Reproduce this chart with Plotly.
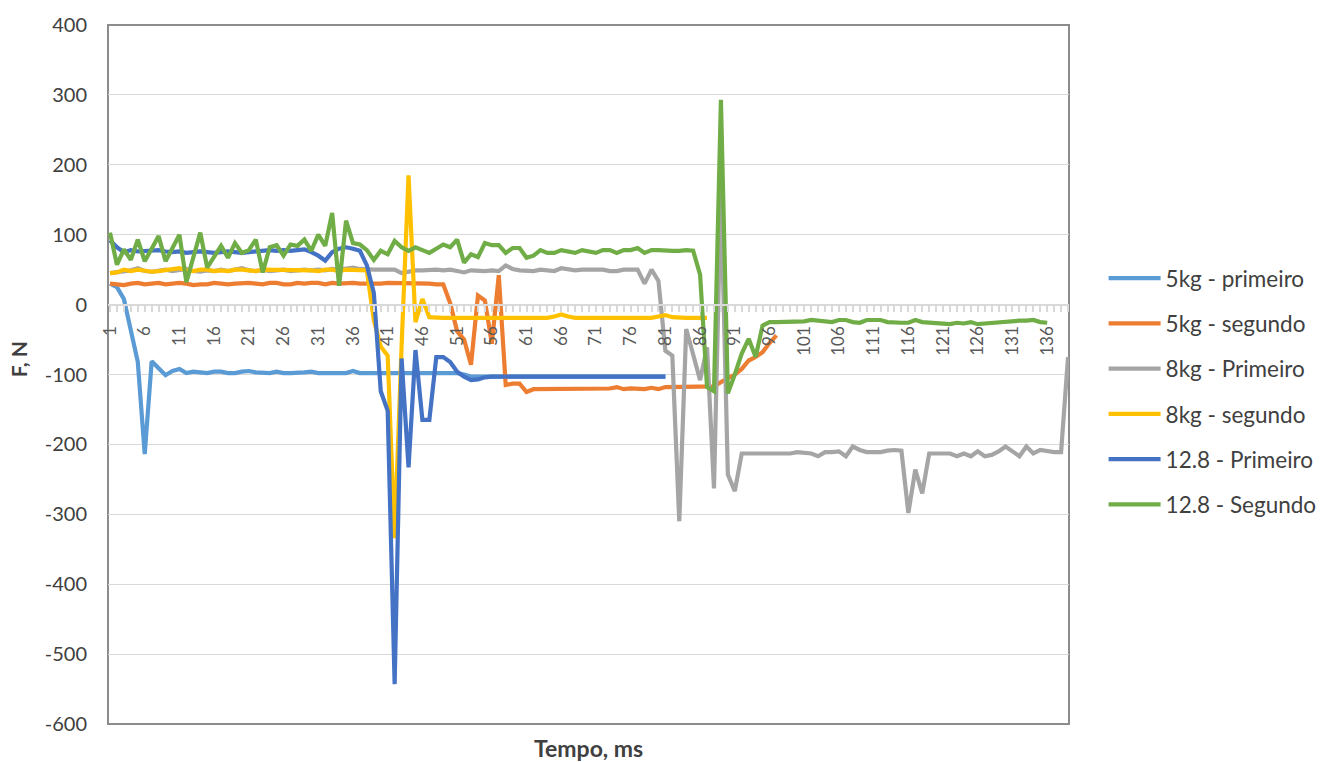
import plotly.graph_objects as go

# ---------------- data ----------------
series_names = ["5kg - primeiro", "5kg - segundo", "8kg - Primeiro",
                "8kg - segundo", "12.8 - Primeiro", "12.8 - Segundo"]
series_colors = ["#5B9BD5", "#ED7D31", "#A5A5A5", "#FFC000", "#4472C4", "#70AD47"]

kg5_primeiro = [30, 25, 8, -40, -82, -214, -81, -91, -101, -95, -92, -98, -96, -97, -98,
                -96, -96, -98, -98, -96, -95, -97, -98, -98, -96, -98, -98, -98, -97, -96,
                -98, -98, -98, -98, -98, -95, -98, -98, -98, -98, -98, -98, -98, -98, -98,
                -98, -98, -98, -98, -98, -98, -100, -103, -103, -103, -103, -103, -103, -103, -103,
                -103, -103, -103, -103, -103, -103, -103, -103, -103, -103, -103, -103, -103, -103, -103,
                -103, -103, -103, -103, -103, -103]

kg5_segundo = [30, 29, 28, 30, 31, 29, 30, 31, 29, 30, 31, 30, 28, 29, 29, 31, 30, 29, 30, 31,
               31, 30, 29, 31, 31, 29, 29, 31, 30, 31, 31, 29, 31, 30, 31, 31, 30, 30, 29, 30,
               31, 31, 30, 31, 31, 31, 30, 29, 29, 2, -38, -50, -86, 13, 6, -56, 42, -115, -113, -113,
               -125, -121, -121, -121, -121, -121, -121, -121, -121, -121, -121, -120, -120, -118, -121,
               -120, -121, -121, -119, -121, -118, -118, -118, -118, -118, -118, -118, -117, -111, -106,
               -100, -92, -80, -75, -68, -55, -44]

kg8_primeiro = [45, 46, 48, 49, 52, 48, 47, 48, 50, 48, 49, 51, 48, 47, 49, 48, 50, 48, 50, 52,
                49, 48, 50, 48, 49, 50, 48, 49, 50, 49, 50, 49, 51, 50, 52, 53, 51, 50, 50, 50,
                50, 50, 45, 47, 49, 49, 50, 50, 49, 50, 48, 46, 49, 48, 48, 49, 48, 56, 51, 49,
                48, 48, 50, 49, 48, 52, 50, 49, 50, 50, 50, 50, 48, 48, 50, 50, 50, 30, 50, 34,
                -66, -73, -310, -35, -70, -108, -61, -263, 165, -243, -267, -213, -213, -213, -213,
                -213, -213, -213, -213, -211, -212, -213, -217, -211, -211, -210, -217, -203, -208, -211,
                -211, -211, -209, -208, -209, -298, -236, -270, -213, -213, -213, -213, -217, -213, -217,
                -210, -217, -215, -210, -203, -210, -217, -203, -213, -208, -210, -211, -211, -75]

kg8_segundo = [45, 46, 50, 48, 50, 49, 47, 48, 49, 51, 52, 49, 48, 50, 50, 48, 49, 48, 50, 50,
               49, 48, 50, 50, 49, 50, 49, 50, 50, 49, 48, 50, 50, 48, 50, 50, 50, 49, -22, -60,
               -73, -334, -60, 185, -25, 8, -18, -19, -19, -19, -19, -19, -19, -19, -19, -19, -19, -19,
               -19, -19, -19, -19, -19, -19, -17, -14, -17, -19, -19, -19, -19, -19, -19, -19, -19, -19,
               -19, -19, -19, -17, -15, -18, -19, -19, -19, -19, -19]

t128_primeiro = [92, 82, 75, 78, 76, 77, 78, 78, 76, 75, 76, 74, 75, 76, 75, 74, 75, 76, 75, 74,
                 75, 76, 77, 78, 77, 78, 77, 78, 79, 75, 70, 63, 75, 80, 82, 80, 77, 56, 17, -124,
                 -152, -543, -77, -233, -65, -165, -165, -75, -75, -82, -96, -103, -108, -107, -104,
                 -103, -103, -103, -103, -103, -103, -103, -103, -103, -103, -103, -103, -103, -103, -103,
                 -103, -103, -103, -103, -103, -103, -103, -103, -103, -103, -103]

t128_segundo = [103, 57, 79, 64, 93, 62, 80, 98, 62, 80, 100, 32, 68, 103, 53, 70, 84, 67, 88, 74,
                78, 93, 46, 82, 85, 70, 86, 84, 93, 77, 100, 84, 131, 27, 120, 88, 86, 78, 64, 77,
                72, 91, 82, 77, 82, 78, 74, 80, 86, 82, 93, 60, 72, 68, 88, 85, 85, 74, 81, 81,
                67, 70, 78, 74, 74, 78, 76, 74, 78, 76, 74, 78, 78, 74, 78, 78, 81, 74, 78, 78,
                77, 77, 77, 78, 77, 43, -118, -124, 293, -127, -100, -70, -49, -75, -30, -25, -25, -25,
                -25, -25, -24, -22, -23, -25, -25, -22, -22, -25, -26, -22, -22, -22, -25, -26, -26,
                -26, -22, -25, -26, -26, -28, -28, -26, -27, -25, -28, -27, -26, -25, -25, -24, -23,
                -23, -22, -25, -26]

all_series = [kg5_primeiro, kg5_segundo, kg8_primeiro, kg8_segundo, t128_primeiro, t128_segundo]

n_categories = 139
tick_values = list(range(1, n_categories + 1, 5))
tick_labels = [str(v) for v in tick_values]
y_ticks = list(range(-600, 500, 100))
y_tick_labels = [str(v) for v in y_ticks]

FONT = "Lato, 'Open Sans', sans-serif"
TXT = "#595959"
DARK = "#404040"

fig = go.Figure()
for name, color, vals in zip(series_names, series_colors, all_series):
    fig.add_trace(go.Scatter(
        x=list(range(1, len(vals) + 1)), y=vals, mode="lines", name=name,
        line=dict(color=color, width=4.2), legendgroup=name,
    ))

fig.update_layout(
    width=1334, height=762,
    margin=dict(l=108, r=263, t=21, b=38),
    paper_bgcolor="white", plot_bgcolor="white",
    font=dict(family=FONT, color=TXT),
    showlegend=True,
    legend=dict(x=1.036, y=0.668, xanchor="left", yanchor="top",
                font=dict(size=22.5, color=DARK, family=FONT),
                itemwidth=52,
                tracegroupgap=13, bgcolor="rgba(0,0,0,0)"),
    xaxis=dict(
        range=[0.71, 139.14], anchor="free", position=0.6,
        tickmode="array", tickvals=tick_values, ticktext=tick_labels,
        tickangle=-90, tickfont=dict(size=17, color=TXT),
        showline=True, linecolor="#D9D9D9", linewidth=1.5,
        ticks="outside", ticklen=7, tickcolor="#D9D9D9", tickwidth=1.5,
        ticklabelstandoff=7,
        minor=dict(tickmode="linear", tick0=1, dtick=1, ticks="outside",
                   ticklen=7, tickcolor="#D9D9D9", tickwidth=1.5, showgrid=False),
        showgrid=False, zeroline=False,
    ),
    yaxis=dict(
        range=[-600, 400], tickmode="array", tickvals=y_ticks, ticktext=y_tick_labels,
        tickfont=dict(size=20, color=DARK),
        showgrid=True, gridcolor="#D9D9D9", gridwidth=1.3,
        zeroline=False, showline=False, ticks="",
        ticklabelstandoff=20,
    ),
    shapes=[dict(type="rect", xref="paper", yref="paper", x0=0, x1=1, y0=0, y1=1,
                 line=dict(color="#8C8C8C", width=2), layer="below")],
    annotations=[
        dict(text="<b>Tempo, ms</b>", xref="paper", yref="paper", x=0.5, y=0,
             yanchor="middle", yshift=-24, showarrow=False,
             font=dict(size=23, color=DARK, family=FONT)),
        dict(text="<b>F, N</b>", xref="paper", yref="paper", x=-(108 - 18) / 963, y=0.522,
             xanchor="center", yanchor="middle", textangle=-90, showarrow=False,
             font=dict(size=21, color=DARK, family=FONT)),
    ],
)

fig.write_html("out.html", config={"displayModeBar": False},
               post_script="document.body.style.margin='0';")
